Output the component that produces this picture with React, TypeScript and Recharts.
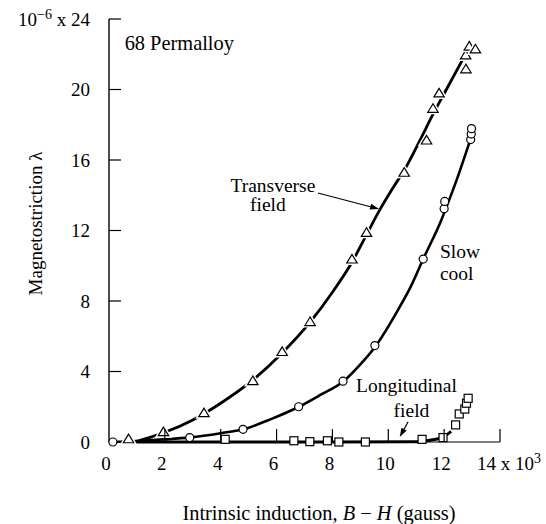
import React from 'react';
import {
  ComposedChart,
  Line,
  Scatter,
  XAxis,
  YAxis,
  ReferenceDot,
  ReferenceLine,
  Label
} from 'recharts';

// measured points (B-H in kilogauss, lambda in 1e-6)
const transverseX = [0.7, 1.95, 3.4, 5.15, 6.2, 7.2, 8.7, 9.22, 10.57, 11.37, 11.6, 11.82, 12.78, 12.77, 12.9, 13.12];
const transverseY = [0.15, 0.55, 1.63, 3.45, 5.1, 6.8, 10.35, 11.86, 15.27, 17.1, 18.9, 19.77, 21.14, 21.93, 22.43, 22.27];

const slowCoolX = [0.14, 2.89, 4.8, 6.79, 8.38, 9.52, 11.25, 12.0, 12.02, 12.95, 12.97, 12.98];
const slowCoolY = [0.0, 0.25, 0.72, 2.0, 3.45, 5.47, 10.38, 13.24, 13.65, 17.16, 17.48, 17.78];

const longitudinalX = [4.16, 6.62, 7.19, 7.82, 8.23, 9.18, 11.21, 11.96, 12.41, 12.54, 12.74, 12.8, 12.86];
const longitudinalY = [0.15, 0.07, 0.02, 0.07, 0.0, 0.0, 0.15, 0.25, 0.97, 1.59, 1.87, 2.2, 2.48];

// fitted curves as drawn in the figure
const transverseCurveX = [0.9, 1.5, 2.0, 3.0, 4.0, 5.1, 6.2, 7.2, 8.0, 8.7, 9.2, 9.67, 10.2, 10.6, 11.13, 11.57, 12.08, 12.68];
const transverseCurveY = [0.0, 0.28, 0.55, 1.25, 2.2, 3.45, 5.05, 6.8, 8.5, 10.2, 11.7, 13.1, 14.5, 15.5, 17.1, 18.5, 20.0, 21.75];

const slowCoolCurveX = [0.15, 1.0, 2.0, 2.9, 4.0, 4.8, 5.8, 6.8, 7.6, 8.4, 9.0, 9.55, 10.35, 10.8, 11.25, 11.9, 12.05, 12.5, 12.9];
const slowCoolCurveY = [0.0, 0.06, 0.15, 0.26, 0.5, 0.72, 1.3, 2.0, 2.7, 3.45, 4.4, 5.45, 7.5, 8.8, 10.38, 12.6, 13.2, 15.1, 16.97];

const longitudinalCurveX = [0.8, 4.0, 8.0, 11.0, 11.5, 11.96, 12.25];
const longitudinalCurveY = [0.0, 0.0, 0.0, 0.02, 0.1, 0.28, 0.6];

const xTicks = [0, 2, 4, 6, 8, 10, 12, 14];
const yTicks = [0, 4, 8, 12, 16, 20, 24];

const zip = (xs: number[], ys: number[]) => xs.map((x, i) => ({ x, y: ys[i] }));

const FONT = 'Liberation Serif, Times New Roman, DejaVu Serif, serif';
const tickTxt = { fontFamily: FONT, fontSize: 19, fill: '#000' };
const noteTxt = { fontFamily: FONT, fontSize: 19.5, fill: '#000' };
const titleTxt = { fontFamily: FONT, fontSize: 20.4, fill: '#000' };
const yTitleTxt = { fontFamily: FONT, fontSize: 19, fill: '#000' };

const Triangle = (props: any) => {
  const { cx, cy } = props;
  const pts = `${cx},${cy - 5.2} ${cx - 5.2},${cy + 3.4} ${cx + 5.2},${cy + 3.4}`;
  return (
    <g>
      <polygon points={pts} fill="#fff" stroke="#fff" strokeWidth={4} />
      <polygon points={pts} fill="#fff" stroke="#000" strokeWidth={1.2} />
    </g>
  );
};

const Circle = (props: any) => {
  const { cx, cy } = props;
  return <circle cx={cx} cy={cy} r={4} fill="#fff" stroke="#000" strokeWidth={1.2} />;
};

const Square = (props: any) => {
  const { cx, cy } = props;
  return <rect x={cx - 4} y={cy - 4} width={8} height={8} fill="#fff" stroke="#000" strokeWidth={1.2} />;
};

const XTick = (props: any) => {
  const { x, y, payload } = props;
  const v = payload.value;
  return (
    <g>
      {v !== 0 && <line x1={x} y1={y} x2={x} y2={y - 13} stroke="#000" strokeWidth={1.2} />}
      {v === 14 ? (
        <text x={x - 23} y={y + 28} style={tickTxt}>
          14 x 10<tspan dy={-7} fontSize={14}>3</tspan>
        </text>
      ) : (
        <text x={x - 3} y={y + 28} style={tickTxt} textAnchor="middle">
          {v}
        </text>
      )}
    </g>
  );
};

const YTick = (props: any) => {
  const { x, y, payload } = props;
  const v = payload.value;
  return (
    <g>
      {v !== 0 && <line x1={x} y1={y} x2={x + 12} y2={y} stroke="#000" strokeWidth={1.2} />}
      {v === 24 ? (
        <text x={x - 19} y={y} dy="0.35em" style={tickTxt} textAnchor="end">
          10<tspan dy={-7} fontSize={14}>−6</tspan>
          <tspan dy={7}> x 24</tspan>
        </text>
      ) : (
        <text x={x - 19} y={y} dy="0.35em" style={tickTxt} textAnchor="end">
          {v}
        </text>
      )}
    </g>
  );
};

const textAt = (text: string, anchor: 'start' | 'middle' | 'end' = 'middle', style: any = noteTxt) => (p: any) => (
  <text x={p.cx} y={p.cy} dy="0.35em" style={style} textAnchor={anchor}>
    {text}
  </text>
);

const arrow = (p: any) => {
  const { x1, y1, x2, y2 } = p;
  const a = Math.atan2(y2 - y1, x2 - x1);
  const L = 9;
  const w = 3;
  const bx = x2 - L * Math.cos(a);
  const by = y2 - L * Math.sin(a);
  const head = `${x2},${y2} ${bx + w * Math.sin(a)},${by - w * Math.cos(a)} ${bx - w * Math.sin(a)},${by + w * Math.cos(a)}`;
  return (
    <g>
      <line x1={x1} y1={y1} x2={bx} y2={by} stroke="#000" strokeWidth={1.2} />
      <polygon points={head} fill="#000" />
    </g>
  );
};

export default function App() {
  return (
    <div style={{ position: 'absolute', left: 0, top: 0, background: '#fff', fontFamily: FONT }}>
      <ComposedChart width={546} height={524} margin={{ top: 19, right: 46, bottom: 52, left: 0 }}>
        <XAxis
          type="number"
          dataKey="x"
          domain={[0, 14]}
          ticks={xTicks}
          height={30}
          tickSize={0}
          tickMargin={0}
          tickLine={false}
          axisLine={{ stroke: '#000', strokeWidth: 1.2 }}
          tick={XTick}
          interval={0}
        >
          <Label
            content={(p: any) => (
              <text x={p.viewBox.x + 210} y={p.viewBox.y + 71} dy="0.35em" style={titleTxt} textAnchor="middle">
                Intrinsic induction, <tspan fontStyle="italic">B</tspan> − <tspan fontStyle="italic">H</tspan> (gauss)
              </text>
            )}
          />
        </XAxis>
        <YAxis
          type="number"
          dataKey="y"
          domain={[0, 24]}
          ticks={yTicks}
          width={109}
          tickSize={0}
          tickMargin={0}
          tickLine={false}
          axisLine={{ stroke: '#000', strokeWidth: 1.4 }}
          tick={YTick}
          interval={0}
        >
          <Label
            content={(p: any) => {
              const cx = p.viewBox.x + 35;
              const cy = p.viewBox.y + p.viewBox.height / 2 - 7;
              return (
                <text
                  x={cx}
                  y={cy}
                  dy="0.35em"
                  style={yTitleTxt}
                  textAnchor="middle"
                  transform={`rotate(-90 ${cx} ${cy})`}
                >
                  Magnetostriction λ
                </text>
              );
            }}
          />
        </YAxis>

        <Line
          data={zip(transverseCurveX, transverseCurveY)}
          dataKey="y"
          type="monotone"
          stroke="#000"
          strokeWidth={2.8}
          dot={false}
          isAnimationActive={false}
        />
        <Line
          data={zip(slowCoolCurveX, slowCoolCurveY)}
          dataKey="y"
          type="monotone"
          stroke="#000"
          strokeWidth={2.6}
          dot={false}
          isAnimationActive={false}
        />
        <Line
          data={zip(longitudinalCurveX, longitudinalCurveY)}
          dataKey="y"
          type="monotone"
          stroke="#000"
          strokeWidth={3}
          dot={false}
          isAnimationActive={false}
        />

        <Scatter data={zip(transverseX, transverseY)} dataKey="y" shape={Triangle} isAnimationActive={false} />
        <Scatter data={zip(slowCoolX, slowCoolY)} dataKey="y" shape={Circle} isAnimationActive={false} />
        <Scatter data={zip(longitudinalX, longitudinalY)} dataKey="y" shape={Square} isAnimationActive={false} />

        <ReferenceLine segment={[{ x: 7.48, y: 14.13 }, { x: 9.67, y: 13.22 }]} shape={arrow} />
        <ReferenceLine segment={[{ x: 10.71, y: 1.15 }, { x: 10.41, y: 0.28 }]} shape={arrow} />

        <ReferenceDot x={0.56} y={22.67} shape={textAt('68 Permalloy', 'start', titleTxt)} />
        <ReferenceDot x={5.87} y={14.6} shape={textAt('Transverse')} />
        <ReferenceDot x={5.69} y={13.52} shape={textAt('field')} />
        <ReferenceDot x={11.85} y={10.81} shape={textAt('Slow', 'start')} />
        <ReferenceDot x={11.85} y={9.59} shape={textAt('cool', 'start')} />
        <ReferenceDot x={10.65} y={3.2} shape={textAt('Longitudinal')} />
        <ReferenceDot x={10.83} y={1.82} shape={textAt('field')} />
      </ComposedChart>
    </div>
  );
}
